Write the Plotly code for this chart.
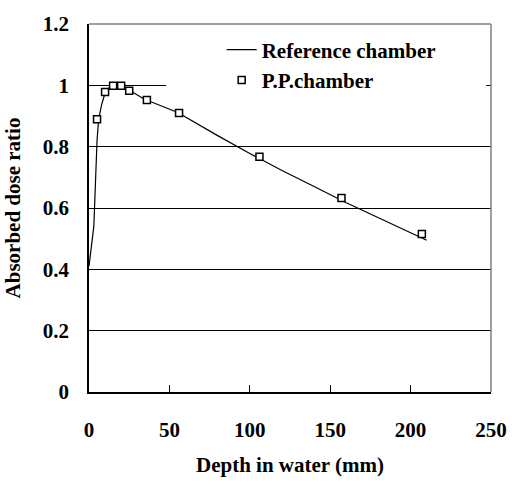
import plotly.graph_objects as go

# Reference chamber (line)
ref_depth = [0, 3, 5, 6, 8, 10, 12, 15, 20, 25, 30, 35, 40, 50, 56, 60, 70, 80, 100, 120, 140, 160, 180, 200, 210]
ref_dose = [0.41, 0.54, 0.82, 0.89, 0.94, 0.975, 0.99, 1.0, 1.0, 0.985, 0.968, 0.953, 0.943, 0.923, 0.91, 0.897, 0.866, 0.836, 0.778, 0.722, 0.670, 0.617, 0.568, 0.519, 0.495]

# P.P. chamber (markers)
pp_depth = [5, 10, 15, 20, 25, 36, 56, 106, 157, 207]
pp_dose = [0.889, 0.978, 0.999, 0.999, 0.982, 0.952, 0.910, 0.767, 0.633, 0.515]

x_ticks = [0, 50, 100, 150, 200, 250]
x_tick_text = ["0", "50", "100", "150", "200", "250"]
y_ticks = [0, 0.2, 0.4, 0.6, 0.8, 1.0, 1.2]
y_tick_text = ["0", "0.2", "0.4", "0.6", "0.8", "1", "1.2"]

FONT = "Liberation Serif, Times New Roman, serif"

fig = go.Figure()
fig.add_trace(go.Scatter(
    x=ref_depth, y=ref_dose, mode="lines", name="<b>Reference chamber</b>",
    line=dict(color="black", width=1.2),
))
fig.add_trace(go.Scatter(
    x=pp_depth, y=pp_dose, mode="markers", name="<b>P.P.chamber</b>",
    marker=dict(symbol="square", size=7, color="white",
                line=dict(color="black", width=1.5)),
))

fig.update_layout(
    width=519, height=485,
    margin=dict(l=87, r=17, t=15, b=77),
    plot_bgcolor="white", paper_bgcolor="white",
    font=dict(family=FONT, size=21, color="black"),
    showlegend=True,
    legend=dict(
        x=0.33, y=0.985, xanchor="left", yanchor="top",
        bgcolor="rgba(0,0,0,0)", borderwidth=0,
        font=dict(family=FONT, size=21, color="black"),
        tracegroupgap=0, itemwidth=30,
    ),
    xaxis=dict(
        range=[0, 250], tickvals=x_ticks,
        ticktext=["<b>%s</b>" % t for t in x_tick_text],
        ticks="inside", ticklen=7,
        tickcolor="black", showline=True, linecolor="black", linewidth=1.5,
        showgrid=False, zeroline=False, ticklabelstandoff=18,
        tickfont=dict(family=FONT, size=21, color="black"),
        title=dict(text="<b>Depth in water (mm)</b>", standoff=16,
                   font=dict(family=FONT, size=21, color="black")),
    ),
    yaxis=dict(
        range=[0, 1.2], tickvals=y_ticks, ticktext=["<b>%s</b>" % t for t in y_tick_text],
        ticks="inside", ticklen=6, tickcolor="black",
        showline=True, linecolor="black", linewidth=1.5,
        showgrid=True, gridcolor="black", gridwidth=1,
        zeroline=False, ticklabelstandoff=14,
        tickfont=dict(family=FONT, size=21, color="black"),
        title=dict(text="<b>Absorbed dose ratio</b>", standoff=16,
                   font=dict(family=FONT, size=21, color="black")),
    ),
    shapes=[
        # legend background covering the gridline
        dict(type="rect", xref="x", yref="y", x0=48, x1=247, y0=0.95, y1=1.15,
             fillcolor="white", line=dict(width=0), layer="between"),
        # gray top and right borders
        dict(type="line", xref="paper", yref="paper", x0=0, x1=1, y0=1, y1=1,
             line=dict(color="#808080", width=1.5)),
        dict(type="line", xref="paper", yref="paper", x0=1, x1=1, y0=0, y1=1,
             line=dict(color="#808080", width=1.5)),
    ],
)

fig.write_html("out.html")
